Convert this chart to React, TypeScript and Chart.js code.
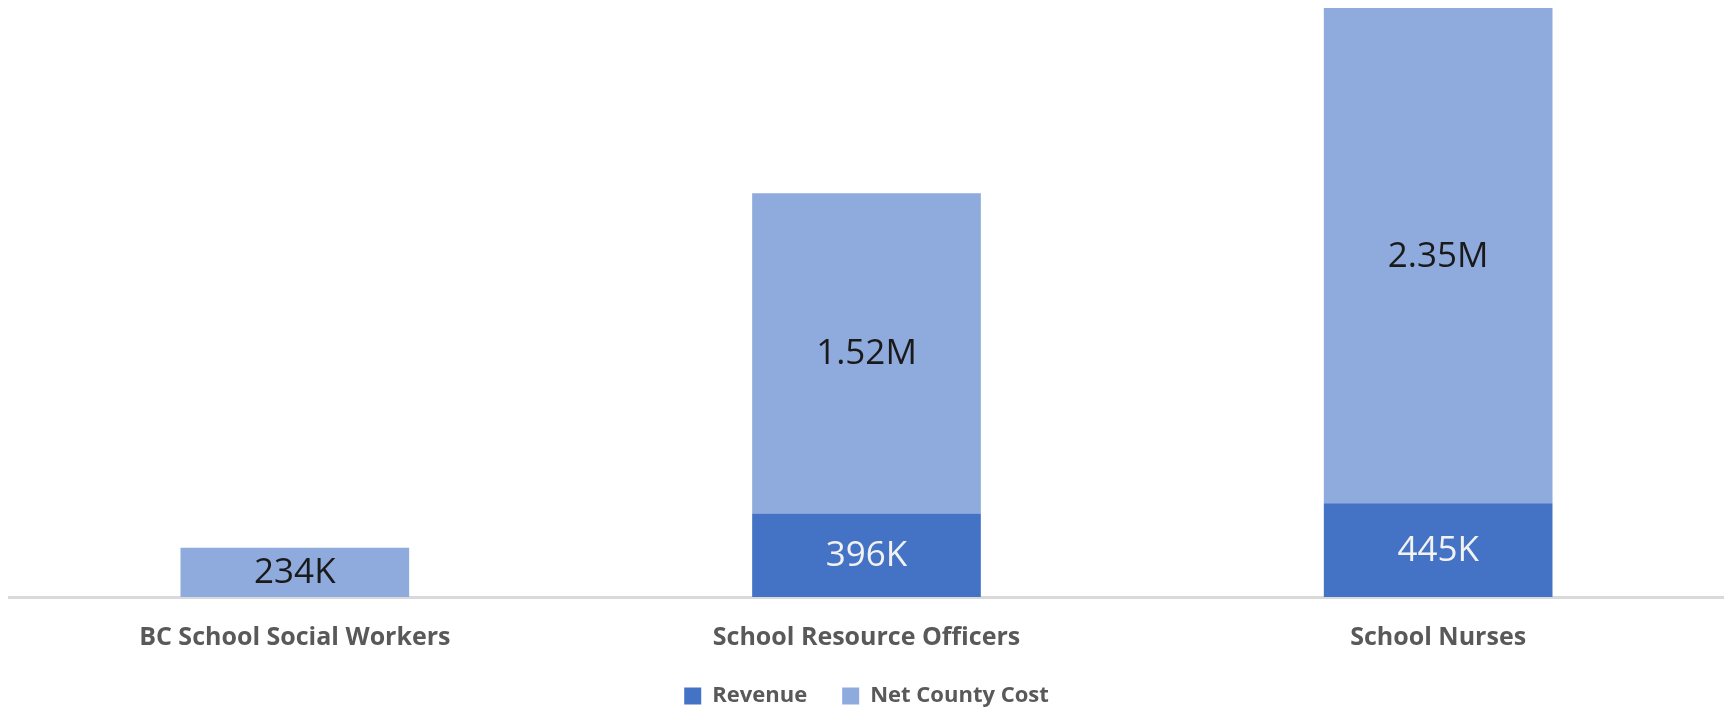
import React, { useEffect, useRef } from "react";
import { Chart, registerables } from "chart.js";

Chart.register(...registerables);

const categories = ["BC School Social Workers", "School Resource Officers", "School Nurses"];
const revenue = [0, 396000, 445000];
const netCountyCost = [234000, 1520000, 2350000];
const seriesNames = ["Revenue", "Net County Cost"];
const seriesColors = ["#4472C4", "#8FAADC"];
const labelColors = ["#F2F2F2", "#1a1a1a"];

function fmt(v: number): string {
  if (v >= 1e6) return (v / 1e6).toFixed(2) + "M";
  return Math.round(v / 1e3) + "K";
}

const valueLabels = {
  id: "valueLabels",
  afterDatasetsDraw(chart: any) {
    const ctx = chart.ctx;
    ctx.save();
    ctx.textAlign = "center";
    ctx.textBaseline = "middle";
    ctx.font = "35px 'Open Sans', 'Noto Sans', sans-serif";
    chart.data.datasets.forEach((ds: any, di: number) => {
      const meta = chart.getDatasetMeta(di);
      meta.data.forEach((el: any, i: number) => {
        const v = ds.data[i];
        if (!v) return;
        const top = Math.min(el.y, el.base);
        const bot = Math.max(el.y, el.base);
        ctx.fillStyle = labelColors[di];
        ctx.fillText(fmt(v), el.x, (top + bot) / 2 + 1);
      });
    });
    ctx.restore();
  },
};

export default function App() {
  const ref = useRef<HTMLCanvasElement>(null);
  useEffect(() => {
    const chart = new Chart(ref.current!, {
      type: "bar",
      data: {
        labels: categories,
        datasets: [
          { label: seriesNames[0], data: revenue, backgroundColor: seriesColors[0] },
          { label: seriesNames[1], data: netCountyCost, backgroundColor: seriesColors[1] },
        ],
      },
      options: {
        animation: false,
        responsive: false,
        maintainAspectRatio: false,
        layout: { padding: { left: 9, right: 0, top: 8, bottom: -8 } },
        datasets: { bar: { barPercentage: 0.4, categoryPercentage: 1 } } as any,
        scales: {
          x: {
            stacked: true,
            grid: { display: false, drawTicks: false },
            border: { display: true, color: "#D9D9D9", width: 3 },
            ticks: {
              color: "#595959",
              font: { family: "'Open Sans', 'Noto Sans', sans-serif", size: 25, weight: "bold" },
              padding: 26,
            },
            afterFit: (scale: any) => {
              scale.height -= 29;
            },
          },
          y: {
            stacked: true,
            display: false,
            min: 0,
            max: 2795000,
          },
        },
        plugins: {
          legend: {
            position: "bottom",
            labels: {
              boxWidth: 17,
              boxHeight: 17,
              padding: 35,
              color: "#595959",
              font: { family: "'Open Sans', 'Noto Sans', sans-serif", size: 22, weight: "bold" },
            },
          },
          tooltip: { enabled: false },
        },
      },
      plugins: [valueLabels],
    });
    return () => chart.destroy();
  }, []);
  return (
    <div style={{ position: "fixed", left: 0, top: 0, width: 1724, height: 709, background: "#fff" }}>
      <canvas ref={ref} width={1724} height={709} style={{ display: "block" }} />
    </div>
  );
}
